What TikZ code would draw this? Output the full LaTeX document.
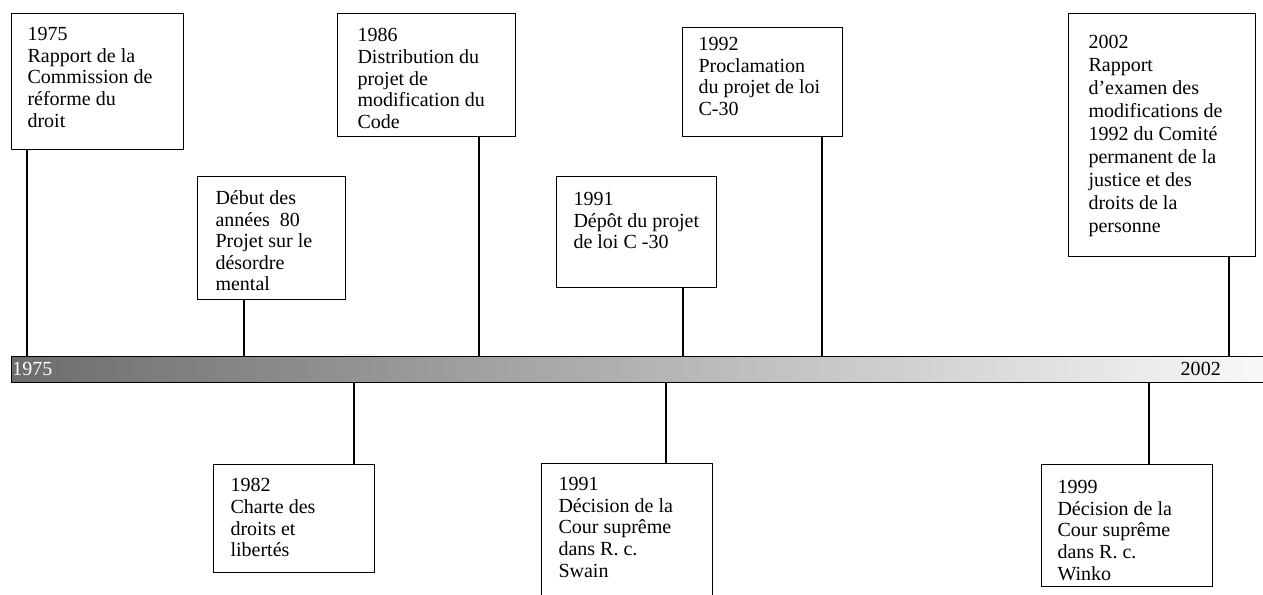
\documentclass[tikz,border=0pt]{standalone}
\usepackage{fontspec}
\setmainfont{Liberation Serif}
\frenchspacing
\definecolor{barleft}{RGB}{108,108,108}
\definecolor{barright}{RGB}{250,250,250}
\newcommand{\evtext}[3]{\parbox[t][#2][t]{#1}{\raggedright #3}}
\tikzset{
  evbox/.style={draw, line width=0.8pt, anchor=north west, inner xsep=12.75pt, inner ysep=10.5pt},
  tick/.style={line width=0.8pt},
}
\begin{document}
\begin{tikzpicture}[x=0.75pt, y=-0.75pt, font=\fontsize{15}{16.2}\selectfont]
  \useasboundingbox (0,0) rectangle (1263,595);
  % time bar
  \node[draw, line width=0.8pt, left color=barleft, right color=barright, anchor=north west,
        inner sep=0, minimum width=948pt, minimum height=19.5pt] (bar) at (11,356) {};
  \node[anchor=west, inner sep=0, text=white] (lab75) at (12,369) {1975};
  \node[anchor=east, inner sep=0] (lab02) at (1221,369) {2002};
  % points on the bar
  \coordinate (t75) at (27,356);
  \coordinate (t80) at (244,356);
  \coordinate (t86) at (479,356);
  \coordinate (t91) at (683,356);
  \coordinate (t92) at (822,356);
  \coordinate (t02) at (1229,356);
  \coordinate (u82) at (354,382);
  \coordinate (u91) at (666,382);
  \coordinate (u99) at (1149,382);
  % 1975
  \node[evbox, inner xsep=12pt] (rapport75) at (11,13)
    {\evtext{105pt}{81pt}{1975\\Rapport de la\\Commission de\\réforme du\\droit}};
  \draw[tick] (rapport75.south -| t75) -- (t75);
  % early 80s
  \node[evbox, inner xsep=13.5pt] (projet80) at (197,176)
    {\evtext{84pt}{71.25pt}{Début des\\années \ 80\\Projet sur le\\désordre\\mental}};
  \draw[tick] (projet80.south -| t80) -- (t80);
  % 1986
  \node[evbox, inner xsep=15pt, inner ysep=11.25pt] (code86) at (337,13)
    {\evtext{103.5pt}{69.75pt}{1986\\Distribution du\\projet de\\modification du\\Code}};
  \draw[tick] (code86.south -| t86) -- (t86);
  % 1991 bill
  \node[evbox, inner ysep=12pt] (depot91) at (556,176)
    {\evtext{94.5pt}{59.25pt}{1991\\Dépôt du projet\\de loi C -30}};
  \draw[tick] (depot91.south -| t91) -- (t91);
  % 1992
  \node[evbox, inner xsep=12pt, inner ysep=7.5pt] (procl92) at (682,27)
    {\evtext{96pt}{66.75pt}{1992\\Proclamation\\du projet de loi\\C-30}};
  \draw[tick] (procl92.south -| t92) -- (t92);
  % 2002
  \node[evbox, inner xsep=15pt, inner ysep=16.5pt, font=\fontsize{15}{17.25}\selectfont] (examen02) at (1068,13)
    {\evtext{110.25pt}{149.25pt}{2002\\Rapport\\d’examen des\\modifications de\\1992 du Comité\\permanent de la\\justice et des\\droits de la\\personne}};
  \draw[tick] (examen02.south -| t02) -- (t02);
  % 1982
  \node[evbox] (charte82) at (213,464)
    {\evtext{95.25pt}{60pt}{1982\\Charte des\\droits et\\libertés}};
  \draw[tick] (u82) -- (charte82.north -| u82);
  % 1991 Swain
  \node[evbox] (swain91) at (541,463)
    {\evtext{102.75pt}{91.5pt}{1991\\Décision de la\\Cour suprême\\dans R. c.\\Swain}};
  \draw[tick] (u91) -- (swain91.north -| u91);
  % 1999 Winko
  \node[evbox, inner xsep=12pt, inner ysep=12pt] (winko99) at (1041,464)
    {\evtext{104.25pt}{67.5pt}{1999\\Décision de la\\Cour suprême\\dans R. c.\\Winko}};
  \draw[tick] (u99) -- (winko99.north -| u99);
\end{tikzpicture}
\end{document}
